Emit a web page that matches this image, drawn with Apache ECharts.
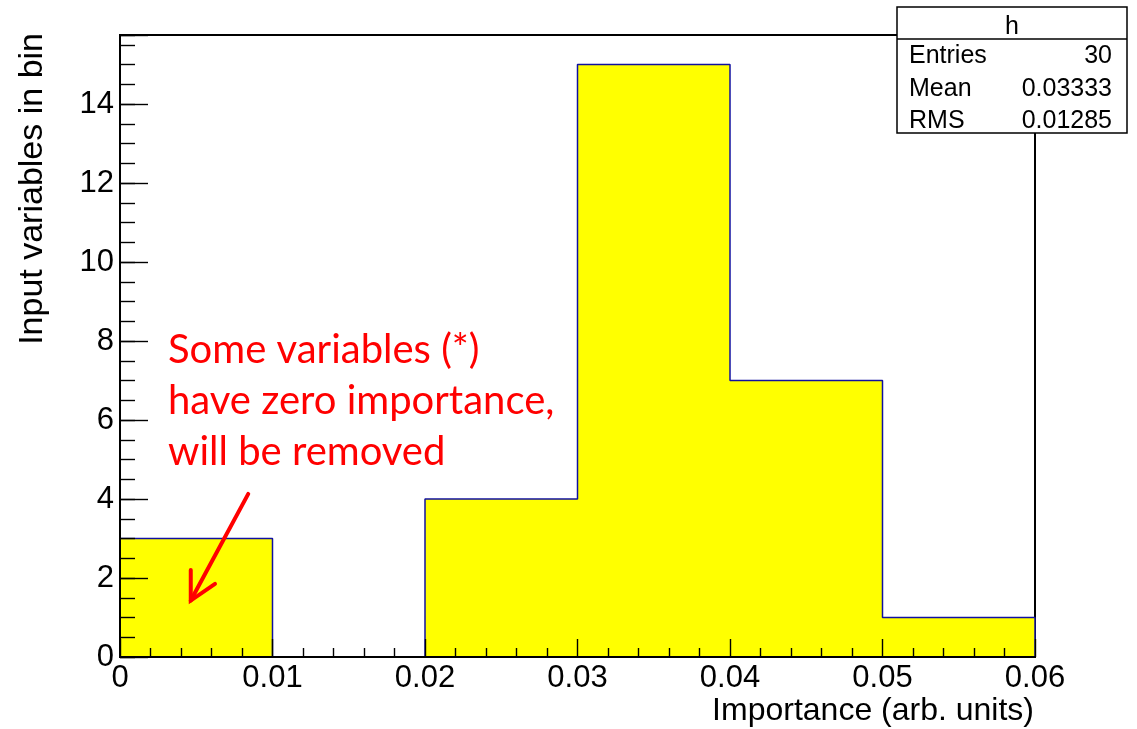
<!DOCTYPE html>
<html>
<head>
<meta charset="utf-8">
<script src="https://cdn.jsdelivr.net/npm/echarts@6/dist/echarts.min.js"></script>
<style>
  html, body { margin: 0; padding: 0; background: #fff; }
  #chart { width: 1137px; height: 729px; }
</style>
</head>
<body>
<div id="chart"></div>
<script>
// Histogram "h": variable importance, 6 bins of width 0.01
const binEdges = [0, 0.01, 0.02, 0.03, 0.04, 0.05, 0.06];
const binCounts = [3, 0, 4, 15, 7, 1];

// Statistics box contents
const statsTitle = 'h';
const statsNames = ['Entries', 'Mean', 'RMS'];
const statsValues = ['30', '0.03333', '0.01285'];

// Annotation text and the arrow (in data coordinates: tail, tip, two wing ends)
const noteLines = ['Some variables (*)', 'have zero importance,', 'will be removed'];
const arrowTail = [0.00841, 4.13];
const arrowTip = [0.00464, 1.43];
const arrowWingA = [0.00464, 2.20];
const arrowWingB = [0.00623, 1.85];

const xTitle = 'Importance (arb. units)';
const yTitle = 'Input variables in bin';

// Step outline of the histogram built from the bin edges and contents
const outline = [[binEdges[0], 0]];
for (let i = 0; i < binCounts.length; i++) outline.push([binEdges[i], binCounts[i]]);
outline.push([binEdges[binEdges.length - 1], binCounts[binCounts.length - 1]]);
outline.push([binEdges[binEdges.length - 1], 0]);

const Y_MAX = 15.75;
const FONT = 'Liberation Sans, Arial, Helvetica, sans-serif';

const chart = echarts.init(document.getElementById('chart'), null, { renderer: 'canvas' });

const option = {
  animation: false,
  backgroundColor: '#fff',
  grid: {
    left: 120, right: 102, top: 35, bottom: 72,
    show: true, borderColor: '#000', borderWidth: 2,
    containLabel: false, outerBoundsMode: 'none'
  },
  xAxis: {
    type: 'value', min: 0, max: 0.06, interval: 0.01, z: 10,
    axisLine: { show: true, onZero: false, lineStyle: { color: '#000', width: 2 } },
    axisTick: { show: true, inside: true, length: 18, lineStyle: { color: '#000', width: 1.4 } },
    minorTick: { show: true, splitNumber: 5, length: 9, lineStyle: { color: '#000', width: 1.4 } },
    splitLine: { show: false },
    axisLabel: {
      margin: 6, color: '#000', fontSize: 31, fontFamily: FONT,
      showMinLabel: true, showMaxLabel: true,
      formatter: v => String(+v.toFixed(4))
    }
  },
  yAxis: [
    {
      type: 'value', min: 0, max: Y_MAX, interval: 2, z: 10,
      axisLine: { show: true, onZero: false, lineStyle: { color: '#000', width: 2 } },
      axisTick: { show: true, inside: true, length: 28, lineStyle: { color: '#000', width: 1.4 } },
      splitLine: { show: false },
      axisLabel: {
        margin: 6, color: '#000', fontSize: 31, fontFamily: FONT,
        showMinLabel: true, showMaxLabel: true,
        formatter: v => (Math.abs(v % 2) < 1e-9 ? String(v) : '')
      }
    },
    {
      // finer ticks every 0.5 on the same scale
      type: 'value', min: 0, max: Y_MAX, interval: 0.5, position: 'left', z: 10,
      axisLine: { show: false },
      axisTick: { show: true, inside: true, length: 15, lineStyle: { color: '#000', width: 1.4 } },
      splitLine: { show: false },
      axisLabel: { show: false }
    }
  ],
  series: [
    {
      type: 'line',
      step: 'end',
      data: outline,
      yAxisIndex: 0,
      symbol: 'none',
      z: 2,
      lineStyle: { color: '#1010a0', width: 1.5 },
      areaStyle: { color: '#ffff00', opacity: 1, origin: 'start' }
    }
  ]
};

chart.setOption(option);

// Overlay: axis titles, annotation, arrow and statistics box
const px = p => chart.convertToPixel({ xAxisIndex: 0, yAxisIndex: 0 }, p);
const tail = px(arrowTail), tip = px(arrowTip), wa = px(arrowWingA), wb = px(arrowWingB);

const graphics = [];

// bottom axis line redrawn above the histogram so the empty bin shows the black axis
const x0 = px([binEdges[0], 0]), x1 = px([binEdges[binEdges.length - 1], 0]);
graphics.push({
  type: 'line', z: 15,
  shape: { x1: x0[0], y1: x0[1], x2: x1[0], y2: x1[1] },
  style: { stroke: '#000', lineWidth: 2 }
});

graphics.push({
  type: 'text', z: 20,
  style: { text: xTitle, x: 1034, y: 711, align: 'right', verticalAlign: 'middle',
           fontSize: 32, fontFamily: FONT, fill: '#000' }
});
graphics.push({
  type: 'text', z: 20, x: 33, y: 33, rotation: Math.PI / 2,
  style: { text: yTitle, x: 0, y: 0, align: 'right', verticalAlign: 'middle',
           fontSize: 34, fontFamily: FONT, fill: '#000' }
});

const noteY = [350, 401, 452];
noteLines.forEach((t, i) => {
  graphics.push({
    type: 'text', z: 20,
    style: { text: t, x: 168, y: noteY[i], align: 'left', verticalAlign: 'middle',
             fontSize: 40, fontFamily: 'Lato, sans-serif', fill: '#ff0000' }
  });
});

graphics.push({
  type: 'polyline', z: 20,
  shape: { points: [tail, tip] },
  style: { stroke: '#ff0000', lineWidth: 4, fill: null, lineCap: 'round' }
});
graphics.push({
  type: 'polyline', z: 20,
  shape: { points: [wa, tip, wb] },
  style: { stroke: '#ff0000', lineWidth: 4, fill: null, lineCap: 'round', lineJoin: 'miter' }
});

// Statistics box
const bx = 897, by = 7, bw = 230, bh = 126, headH = 32;
graphics.push({
  type: 'rect', z: 30,
  shape: { x: bx, y: by, width: bw, height: bh },
  style: { fill: '#fff', stroke: '#000', lineWidth: 1.5 }
});
graphics.push({
  type: 'line', z: 31,
  shape: { x1: bx, y1: by + headH, x2: bx + bw, y2: by + headH },
  style: { stroke: '#000', lineWidth: 1.5 }
});
graphics.push({
  type: 'text', z: 31,
  style: { text: statsTitle, x: bx + bw / 2, y: by + 20, align: 'center', verticalAlign: 'middle',
           fontSize: 25, fontFamily: FONT, fill: '#000' }
});
const rowY = [56, 89, 121];
statsNames.forEach((n, i) => {
  graphics.push({
    type: 'text', z: 31,
    style: { text: n, x: 909, y: rowY[i], align: 'left', verticalAlign: 'middle',
             fontSize: 25, fontFamily: FONT, fill: '#000' }
  });
  graphics.push({
    type: 'text', z: 31,
    style: { text: statsValues[i], x: 1112, y: rowY[i], align: 'right', verticalAlign: 'middle',
             fontSize: 25, fontFamily: FONT, fill: '#000' }
  });
});

chart.setOption({ graphic: graphics });
</script>
</body>
</html>
